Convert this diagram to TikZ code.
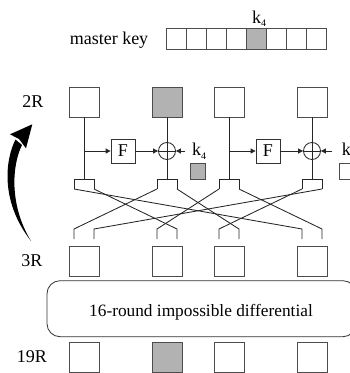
\documentclass[tikz,border=0pt]{standalone}
\usepackage{fontspec}
\setmainfont{Liberation Serif}
\usetikzlibrary{arrows.meta}
\newcommand\mykf{k\raisebox{-3.5pt}{\fontsize{10}{10}\selectfont 4}}
\begin{document}
\begin{tikzpicture}[x=1pt,y=-1pt,
  ln/.style={draw=black!85,line width=0.85pt},
  cell/.style={draw=black!70,line width=0.8pt,minimum width=30pt,minimum height=30pt,inner sep=0pt},
  shaded/.style={fill=black!30},
  keycell/.style={draw=black!70,line width=0.8pt,minimum width=20.1pt,minimum height=21pt,inner sep=0pt},
  fbox/.style={draw=black!80,line width=0.8pt,minimum size=24pt,inner sep=0pt,font=\fontsize{18}{20}\selectfont},
  lbl/.style={font=\fontsize{18}{20}\selectfont,inner sep=0pt},
  arr/.style={ln,-{Triangle[length=5pt,width=5pt]}},
  xor/.style={circle,draw=black!85,line width=0.85pt,minimum size=17pt,inner sep=0pt},
  smallbox/.style={draw=black!70,line width=0.8pt,minimum width=15.7pt,minimum height=16pt,inner sep=0pt},
]
\useasboundingbox (0,0) rectangle (350,373);
\clip (0,0) rectangle (350,373);

% master key
\node[lbl,anchor=base] (mk) at (109,44.5) {master key};
\foreach \i in {0,...,7} \node[keycell] (m\i) at ({176.05+20.1*\i},38.5) {};
\node[keycell,shaded] (m4) at (256.45,38.5) {};
\node[lbl,anchor=base west] (mk4) at (252,23) {\mykf};

% row labels
\node[lbl] (l2) at (33,102) {2R};
\node[lbl] (l3) at (32,261) {3R};
\node[lbl] (l19) at (32,357) {19R};

% 2R boxes
\node[cell] (a1) at (84,102) {};
\node[cell,shaded] (a2) at (167,102) {};
\node[cell] (a3) at (229,102) {};
\node[cell] (a4) at (312,102) {};

% 3R boxes
\node[cell] (b1) at (84,261) {};
\node[cell] (b2) at (167,261) {};
\node[cell] (b3) at (229,261) {};
\node[cell] (b4) at (312,261) {};

% 19R boxes
\node[cell] (c1) at (84,357) {};
\node[cell,shaded] (c2) at (167,357) {};
\node[cell] (c3) at (229,357) {};
\node[cell] (c4) at (312,357) {};

% Feistel parts
\node[fbox] (f1) at (123,151) {F};
\node[fbox] (f2) at (268,151) {F};
\node[xor] (x1) at (167,151) {};
\node[xor] (x2) at (312,151) {};
\node[lbl,anchor=base west] (k1) at (192,155.5) {\mykf};
\node[lbl,anchor=base west] (k2) at (341.7,155.5) {\mykf};
\node[smallbox,shaded] (s1) at (197.8,171) {};
\node[smallbox] (s2) at (347.3,171.2) {};

\coordinate (t1) at (84,179);
\coordinate (t2) at (167,179);
\coordinate (t3) at (229,179);
\coordinate (t4) at (312,179);
\coordinate (br1) at (84,151);
\coordinate (br2) at (229,151);
\coordinate (ka1) at (185,151);
\coordinate (ka2) at (332,151);

\draw[ln] (a1.south) -- (t1);
\draw[ln] (a2.south) -- (t2);
\draw[ln] (a3.south) -- (t3);
\draw[ln] (a4.south) -- (t4);
\draw[ln] (x1.west) -- (x1.east);
\draw[ln] (x2.west) -- (x2.east);
\draw[arr] (br1) -- (f1.west);
\draw[arr] (f1.east) -- (x1.west);
\draw[arr] (ka1) -- (x1.east);
\draw[arr] (br2) -- (f2.west);
\draw[arr] (f2.east) -- (x2.west);
\draw[arr] (ka2) -- (x2.east);

% brackets
\foreach \j/\cx in {1/84,2/167,3/229,4/312}{
  \coordinate (p\j l) at (\cx-10,189);
  \coordinate (p\j r) at (\cx+10,189);
  \coordinate (q\j l) at (\cx-10,229);
  \coordinate (q\j r) at (\cx+10,229);
  \draw[ln] (p\j l) -- ++(0,-10) -- ++(20,0) -- (p\j r);
}
\draw[ln] (p1l) -- (q4l) -- ++(0,10);
\draw[ln] (p1r) -- (q2r) -- ++(0,10);
\draw[ln] (p2l) -- (q1l) -- ++(0,10);
\draw[ln] (p2r) -- (q3r) -- ++(0,10);
\draw[ln] (p3l) -- (q2l) -- ++(0,10);
\draw[ln] (p3r) -- (q4r) -- ++(0,10);
\draw[ln] (p4l) -- (q3l) -- ++(0,10);
\draw[ln] (p4r) -- (q1r) -- ++(0,10);

% impossible differential
\node[draw=black!80,line width=0.8pt,rounded corners=13pt,minimum width=309pt,minimum height=56pt,inner sep=0pt] (diff) at (201.5,308.7) {};
\node[font=\fontsize{17.3}{20}\selectfont,inner sep=0pt,anchor=base] (difftxt) at (201,316) {16-round impossible differential};

% curved arrow
\fill[black] (15.5,139.5) .. controls (6,158) and (-1,200) .. (31,241) .. controls (9,205) and (12,165) .. (22,145) -- cycle;
\fill[black] (32.3,124.3) -- (10,134.3) -- (19,139) -- (26,148.3) -- cycle;
\end{tikzpicture}
\end{document}
